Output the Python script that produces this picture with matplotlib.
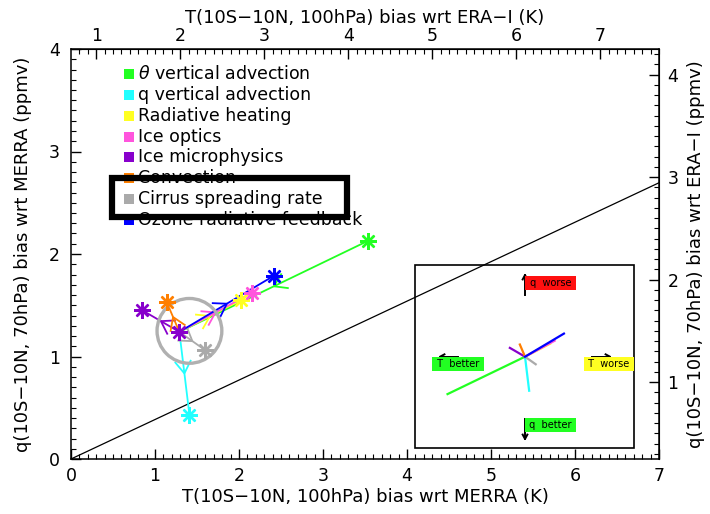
import numpy as np
import matplotlib
matplotlib.use("Agg")
import matplotlib.pyplot as plt
from matplotlib.patches import Rectangle, Ellipse
from matplotlib.markers import MarkerStyle

plt.rcParams['font.family'] = ['DejaVu Sans']

# ---------------- data ----------------
categories = [r'$\theta$ vertical advection', 'q vertical advection', 'Radiative heating',
              'Ice optics', 'Ice microphysics', 'Convection', 'Cirrus spreading rate',
              'Ozone radiative feedback']
colors = ['#22ff22', '#22ffff', '#ffff22', '#ff55dd', '#8800cc', '#ff7f00', '#aaaaaa', '#0000ff']
star_x = [3.54, 1.41, 2.02, 2.15, 0.85, 1.14, 1.60, 2.42]
star_y = [2.13, 0.43, 1.55, 1.62, 1.45, 1.53, 1.06, 1.79]
toward_control = [True, False, False, False, False, False, False, False]
control_x, control_y = 1.29, 1.24
circle_x, circle_y = 1.41, 1.25
diag_slope = 0.385
era_T_offset = 0.70
era_q_offset = 0.25
inset_center = (5.405, 0.998)
inset_scale = 0.41

fig = plt.figure(figsize=(7.1, 5.14), dpi=100)
ax = fig.add_axes([71/710, 1-459/514, 588/710, 410/514])
ax.set_xlim(0, 7)
ax.set_ylim(0, 4)

def px_per_unit():
    p0 = ax.transData.transform((0, 0))
    p1 = ax.transData.transform((1, 1))
    return p1[0]-p0[0], p1[1]-p0[1]

sx, sy = px_per_unit()

def vhead(x, y, dx, dy, L, half_deg, color, lw, z):
    """Open V arrow head with tip at (x, y) pointing along pixel direction (dx, dy)."""
    ang = np.arctan2(dy, dx)
    for da in (np.deg2rad(half_deg), -np.deg2rad(half_deg)):
        a = ang + np.pi + da
        ax.plot([x, x + L*np.cos(a)/sx], [y, y + L*np.sin(a)/sy], color=color,
                lw=lw, zorder=z, solid_capstyle='butt')

# diagonal line
xd = np.array([0, 7.0])
ax.plot(xd, diag_slope*xd, color='black', lw=0.9, zorder=2)

ast = MarkerStyle((8, 2, 0))

# series lines and arrows
for i in range(len(categories)):
    c = colors[i]
    ax.plot([control_x, star_x[i]], [control_y, star_y[i]], color=c, lw=1.3, zorder=3)
    mx, my = (control_x+star_x[i])/2, (control_y+star_y[i])/2
    dx = (star_x[i]-control_x)*sx
    dy = (star_y[i]-control_y)*sy
    if toward_control[i]:
        dx, dy = -dx, -dy
    vhead(mx, my, dx, dy, 15, 33, c, 1.3, 3)

for i in range(len(categories)):
    ax.plot(star_x[i], star_y[i], marker=ast, ms=12, mew=1.7, color=colors[i],
            linestyle='none', zorder=5)
ax.plot(control_x, control_y, marker=ast, ms=12, mew=1.7, color=colors[4], zorder=6)

# gray circle
r_px = 32.4
ax.add_patch(Ellipse((circle_x, circle_y), 2*r_px/sx, 2*r_px/sy, fill=False,
                     edgecolor='#b0b0b0', lw=2.4, zorder=4))

# legend (manual)
leg_x_marker = 0.69
leg_x_text = 0.80
leg_y0 = 3.756
leg_dy = 0.2034
for i, lab in enumerate(categories):
    yy = leg_y0 - i*leg_dy
    ax.plot(leg_x_marker, yy, marker='s', ms=7.5, mew=0, color=colors[i], zorder=5)
    ax.text(leg_x_text, yy, lab, fontsize=12.5, va='center', ha='left', zorder=5,
            color='black')

# thick black rectangle
ax.add_patch(Rectangle((0.488, 2.361), 3.286-0.488, 2.741-2.361, fill=False,
                       edgecolor='black', lw=4.5, zorder=8))

# inset
ax.add_patch(Rectangle((4.10, 0.104), 2.60, 1.792, fill=False, edgecolor='black',
                       lw=1.2, zorder=4))
cx, cy = inset_center
for i in range(len(categories)):
    dxv = star_x[i]-control_x
    dyv = star_y[i]-control_y
    if toward_control[i]:
        dxv, dyv = -dxv, -dyv
    ax.plot([cx, cx+inset_scale*dxv], [cy, cy+inset_scale*dyv], color=colors[i],
            lw=1.6, zorder=5)

inset_arrows = [((5.405, 1.60), (5.405, 1.795)),
                ((5.405, 0.39), (5.405, 0.195)),
                ((4.604, 0.998), (4.393, 0.998)),
                ((6.202, 0.998), (6.417, 0.998))]
for (x0, y0), (x1, y1) in inset_arrows:
    ax.plot([x0, x1], [y0, y1], color='black', lw=1.4, zorder=6)
    vhead(x1, y1, (x1-x0)*sx, (y1-y0)*sy, 6, 28, 'black', 1.4, 6)

box_kw = dict(fontsize=7, ha='center', va='center', zorder=7)
ax.text(5.708, 1.717, ' q  worse ', bbox=dict(facecolor='#ff1010', edgecolor='none', pad=1.2), **box_kw)
ax.text(5.708, 0.332, ' q  better ', bbox=dict(facecolor='#22ff22', edgecolor='none', pad=1.2), **box_kw)
ax.text(4.607, 0.927, ' T  better ', bbox=dict(facecolor='#22ff22', edgecolor='none', pad=1.2), **box_kw)
ax.text(6.405, 0.927, ' T  worse ', bbox=dict(facecolor='#ffff22', edgecolor='none', pad=1.2), **box_kw)

# axes styling
for s in ax.spines.values():
    s.set_linewidth(1.1)
ax.set_xticks(np.arange(0, 8, 1))
ax.set_yticks(np.arange(0, 5, 1))
ax.set_xticks(np.arange(0, 7.01, 0.1), minor=True)
ax.set_yticks(np.arange(0, 4.01, 0.1), minor=True)
ax.tick_params(which='major', direction='in', length=7, width=1, labelsize=12.5)
ax.tick_params(axis='x', which='major', pad=6)
ax.tick_params(axis='y', which='major', pad=8)
ax.tick_params(which='minor', direction='in', length=3.5, width=0.8)
ax.set_xlabel('T(10S\u221210N, 100hPa) bias wrt MERRA (K)', fontsize=13, labelpad=2)
ax.set_ylabel('q(10S\u221210N, 70hPa) bias wrt MERRA (ppmv)', fontsize=13, labelpad=12)

top = ax.secondary_xaxis('top', functions=(lambda x: x+era_T_offset, lambda x: x-era_T_offset))
top.set_xticks(np.arange(1, 8, 1))
top.set_xticks(np.arange(0.8, 7.71, 0.1), minor=True)
top.tick_params(which='major', direction='in', length=7, width=1, labelsize=12.5, pad=3)
top.tick_params(which='minor', direction='in', length=3.5, width=0.8)
top.set_xlabel('T(10S\u221210N, 100hPa) bias wrt ERA\u2212I (K)', fontsize=13, labelpad=3)

right = ax.secondary_yaxis('right', functions=(lambda y: y+era_q_offset, lambda y: y-era_q_offset))
right.set_yticks(np.arange(1, 5, 1))
right.set_yticks(np.arange(0.3, 4.251, 0.1), minor=True)
right.tick_params(which='major', direction='in', length=7, width=1, labelsize=12.5, pad=6)
right.tick_params(which='minor', direction='in', length=3.5, width=0.8)
right.set_ylabel('q(10S\u221210N, 70hPa) bias wrt ERA\u2212I (ppmv)', fontsize=13, labelpad=6)

fig.savefig('out.png', dpi=100)
